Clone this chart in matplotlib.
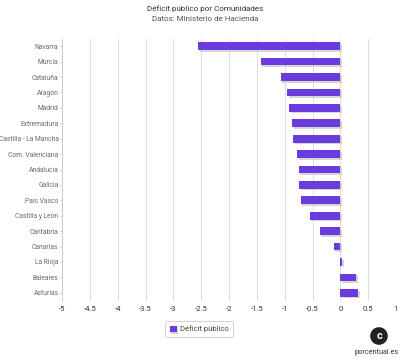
import matplotlib
matplotlib.use("Agg")
import matplotlib.pyplot as plt
import matplotlib.patheffects as pe
from matplotlib.patches import Circle

plt.rcParams['font.family'] = ['Roboto', 'DejaVu Sans']

regions = ["Navarra", "Murcia", "Cataluña", "Aragón", "Madrid", "Extremadura",
           "Castilla - La Mancha", "Com. Valenciana", "Andalucía", "Galicia",
           "País Vasco", "Castilla y León", "Cantabria", "Canarias", "La Rioja",
           "Baleares", "Asturias"]
deficit = [-2.55, -1.43, -1.07, -0.95, -0.92, -0.87, -0.85, -0.77, -0.75, -0.74,
           -0.71, -0.55, -0.37, -0.12, 0.03, 0.28, 0.32]
xticks = [-5, -4.5, -4, -3.5, -3, -2.5, -2, -1.5, -1, -0.5, 0, 0.5, 1]
xticklabels = ["-5", "-4.5", "-4", "-3.5", "-3", "-2.5", "-2", "-1.5", "-1", "-0.5", "0", "0.5", "1"]

bar_color = "#6a3bdd"
grey_text = "#6a6a6a"

fig = plt.figure(figsize=(4, 3.6), dpi=100)
ax = fig.add_axes([62/400, 1-300.5/360, (396-62)/400, (300.5-38.5)/360])

ypos = list(range(len(regions)))
bars = ax.barh(ypos, deficit, height=0.5, color=bar_color, zorder=3)
for b in bars:
    b.set_path_effects([pe.SimplePatchShadow(offset=(1.2, -1.2), shadow_rgbFace="#bbbbbb", alpha=0.6), pe.Normal()])

ax.set_xlim(-5, 1)
ax.set_ylim(len(regions) - 0.5, -0.5)
ax.set_yticks(ypos)
ax.set_yticklabels(regions, fontsize=4.9, color=grey_text)
ax.set_xticks(xticks)
ax.set_xticklabels(xticklabels, fontsize=5.5, color="#333333")
ax.grid(axis="x", color="#dddddd", linewidth=0.7, zorder=0)
for s in ["top", "right", "bottom"]:
    ax.spines[s].set_visible(False)
ax.spines["left"].set_color("#cccccc")
ax.spines["left"].set_linewidth(0.7)
ax.tick_params(axis="y", length=1.5, color="#cccccc", pad=1)
ax.tick_params(axis="x", length=0, pad=4)

fig.text(205/400, 1-9/360, "Déficit público por Comunidades", ha="center", va="center",
         fontsize=5.8, color="#333333")
fig.text(205/400, 1-19/360, "Datos: Ministerio de Hacienda", ha="center", va="center",
         fontsize=5.8, color="#555555")

leg = ax.legend([bars[0]], ["Déficit público"], loc="center", bbox_to_anchor=(199/400, 1-329/360),
                bbox_transform=fig.transFigure, fontsize=5.5, frameon=True, fancybox=True,
                handlelength=0.9, handleheight=0.9, handletextpad=0.4, borderpad=0.6)
leg.get_frame().set_edgecolor("#bbbbbb")
leg.get_frame().set_linewidth(0.6)
for t in leg.get_texts():
    t.set_color("#444444")

# watermark
wax = fig.add_axes([370/400, 1-345/360, 18/400, 18/360])
wax.set_xlim(-1, 1); wax.set_ylim(-1, 1); wax.set_aspect("equal"); wax.axis("off")
wax.add_patch(Circle((0, 0), 0.9, color="#222222"))
wax.text(0.05, -0.05, "c", ha="center", va="center", fontsize=8, color="white", fontweight="bold")
fig.text(377/400, 1-352/360, "porcentual.es", ha="center", va="center", fontsize=5.2, color="#333333")

fig.savefig("out.png", dpi=100)
